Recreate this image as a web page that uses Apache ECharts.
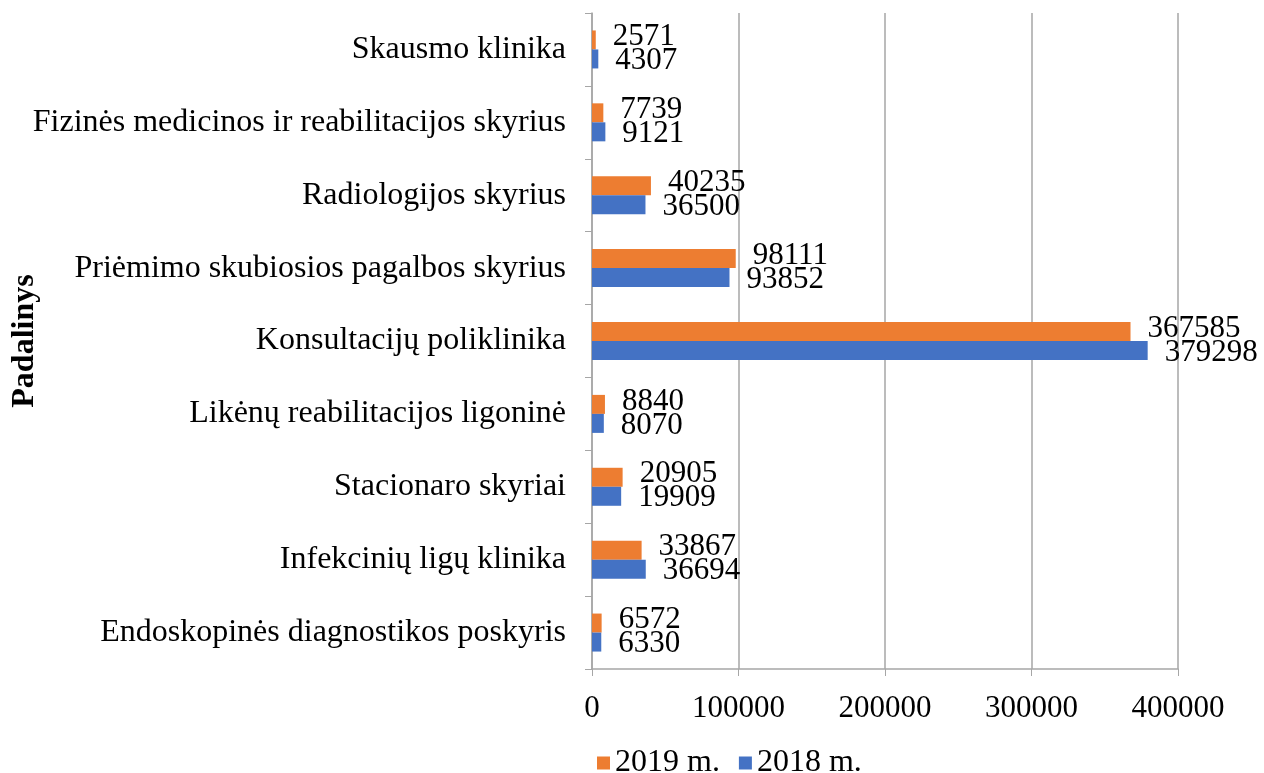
<!DOCTYPE html>
<html>
<head>
<meta charset="utf-8">
<script src="https://cdn.jsdelivr.net/npm/echarts@6/dist/echarts.min.js"></script>
<style>
  html, body { margin: 0; padding: 0; background: #ffffff; }
  #chart { width: 1264px; height: 773px; }
</style>
</head>
<body>
<div id="chart"></div>
<script>
// padaliniai, nuo apačios į viršų
const categories = [
  'Endoskopinės diagnostikos poskyris',
  'Infekcinių ligų klinika',
  'Stacionaro skyriai',
  'Likėnų reabilitacijos ligoninė',
  'Konsultacijų poliklinika',
  'Priėmimo skubiosios pagalbos skyrius',
  'Radiologijos skyrius',
  'Fizinės medicinos ir reabilitacijos skyrius',
  'Skausmo klinika'
];
const values2019 = [6572, 33867, 20905, 8840, 367585, 98111, 40235, 7739, 2571];
const values2018 = [6330, 36694, 19909, 8070, 379298, 93852, 36500, 9121, 4307];
const seriesNames = ['2019 m.', '2018 m.'];

const FONT = '"Liberation Serif", "Times New Roman", serif';
const SIZE = 32;
const NUM_SIZE = 31;

const chart = echarts.init(document.getElementById('chart'), null, { renderer: 'canvas' });

function barSeries(name, data, color, labelOffset) {
  return {
    name: name,
    type: 'bar',
    data: data,
    barWidth: 19,
    barGap: '0%',
    itemStyle: { color: color },
    label: {
      show: true,
      position: 'right',
      distance: 17,
      offset: labelOffset,
      color: '#000000',
      fontFamily: FONT,
      fontSize: NUM_SIZE
    },
    animation: false
  };
}

chart.setOption({
  animation: false,
  textStyle: { fontFamily: FONT },
  grid: { left: 592, right: 86, top: 13, bottom: 104, outerBoundsMode: 'none', containLabel: false },
  legend: {
    data: seriesNames,
    left: 592,
    top: 742,
    icon: 'rect',
    itemWidth: 13,
    itemHeight: 13,
    itemGap: 19,
    itemTextGap: 7,
    textStyle: { fontFamily: FONT, fontSize: 32, color: '#000000' }
  },
  xAxis: {
    type: 'value',
    min: 0,
    max: 400000,
    interval: 100000,
    axisLine: { show: true, lineStyle: { color: '#a6a6a6', width: 1.5 } },
    axisTick: { show: true, length: 7, lineStyle: { color: '#a6a6a6' } },
    axisLabel: {
      color: '#000000',
      fontFamily: FONT,
      fontSize: NUM_SIZE,
      margin: 24,
      formatter: v => String(v)
    },
    splitLine: { show: true, lineStyle: { color: '#a6a6a6', width: 1.5 } }
  },
  yAxis: {
    type: 'category',
    data: categories,
    name: 'Padalinys',
    nameLocation: 'middle',
    nameRotate: 90,
    nameGap: 551,
    nameMoveOverlap: false,
    nameTextStyle: { fontFamily: FONT, fontSize: SIZE, fontWeight: 'bold', color: '#000000' },
    axisLine: { show: true, lineStyle: { color: '#a6a6a6', width: 1.5 } },
    axisTick: { show: true, length: 7, lineStyle: { color: '#a6a6a6' } },
    axisLabel: { color: '#000000', fontFamily: FONT, fontSize: SIZE, margin: 26 }
  },
  series: [
    barSeries(seriesNames[0], values2019, '#ed7d31', [0, -3]),
    barSeries(seriesNames[1], values2018, '#4472c4', [0, 2])
  ]
});
</script>
</body>
</html>
